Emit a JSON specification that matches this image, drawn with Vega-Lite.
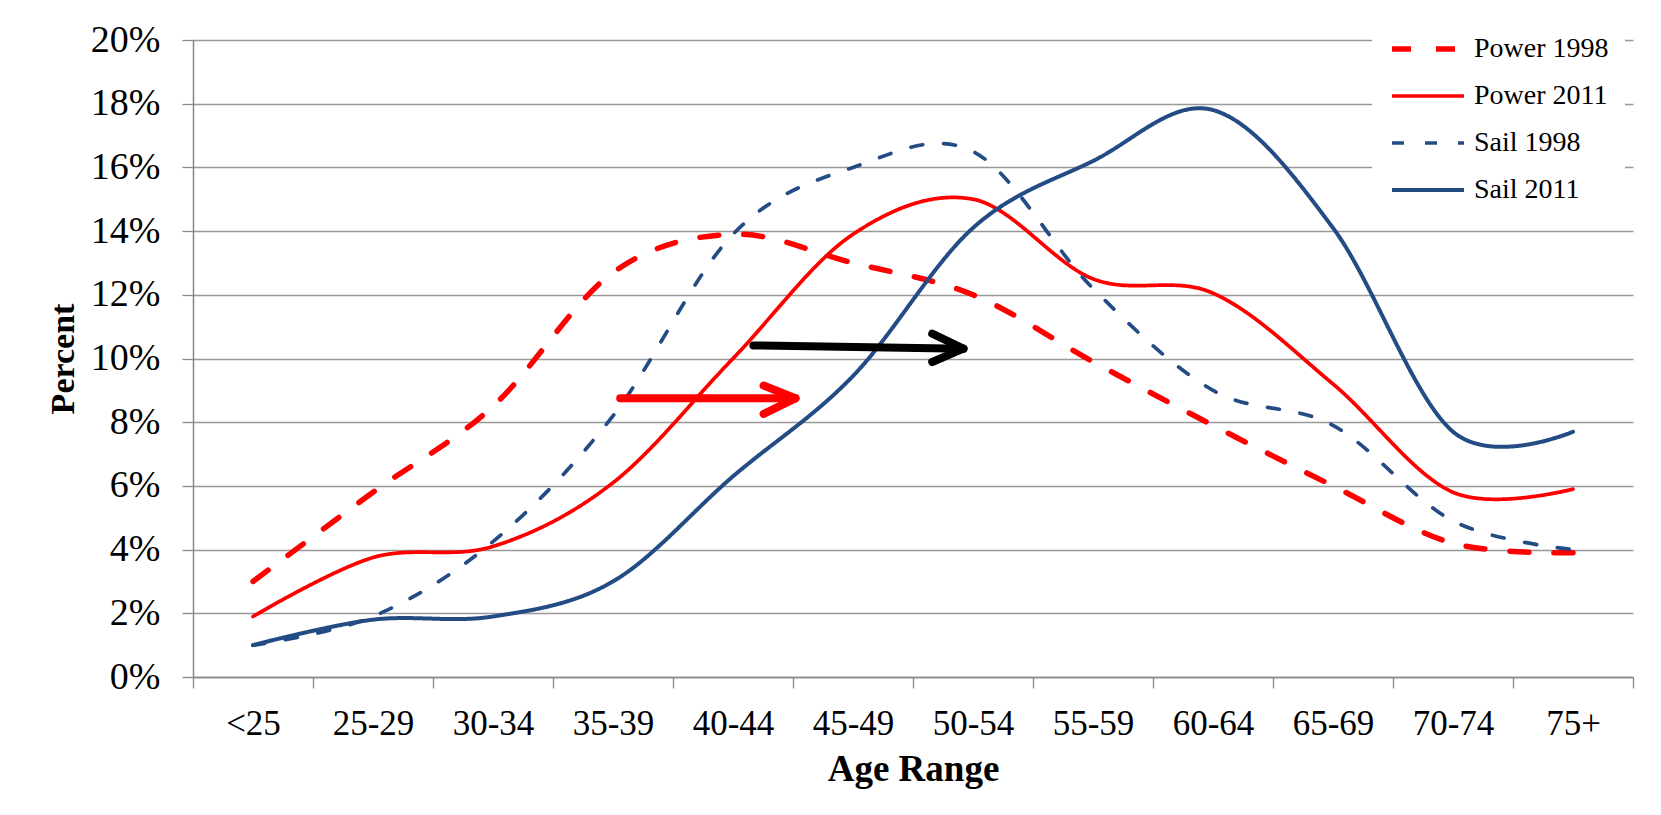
{
 "$schema": "https://vega.github.io/schema/vega-lite/v6.json",
 "autosize": {"type": "none"},
 "padding": {"left": 193, "top": 40, "right": 28, "bottom": 138},
 "width": 1440,
 "height": 637,
 "background": "white",
 "config": {"view": {"stroke": null}, "font": "Liberation Serif"},
 "datasets": {
  "series": [
   {"series": "Power 1998", "age": "<25", "idx": 0, "pct": 0.030},
   {"series": "Power 1998", "age": "25-29", "idx": 1, "pct": 0.058},
   {"series": "Power 1998", "age": "30-34", "idx": 2, "pct": 0.085},
   {"series": "Power 1998", "age": "35-39", "idx": 3, "pct": 0.127},
   {"series": "Power 1998", "age": "40-44", "idx": 4, "pct": 0.139},
   {"series": "Power 1998", "age": "45-49", "idx": 5, "pct": 0.130},
   {"series": "Power 1998", "age": "50-54", "idx": 6, "pct": 0.120},
   {"series": "Power 1998", "age": "55-59", "idx": 7, "pct": 0.099},
   {"series": "Power 1998", "age": "60-64", "idx": 8, "pct": 0.079},
   {"series": "Power 1998", "age": "65-69", "idx": 9, "pct": 0.060},
   {"series": "Power 1998", "age": "70-74", "idx": 10, "pct": 0.042},
   {"series": "Power 1998", "age": "75+", "idx": 11, "pct": 0.039},
   {"series": "Power 2011", "age": "<25", "idx": 0, "pct": 0.019},
   {"series": "Power 2011", "age": "25-29", "idx": 1, "pct": 0.0375},
   {"series": "Power 2011", "age": "30-34", "idx": 2, "pct": 0.041},
   {"series": "Power 2011", "age": "35-39", "idx": 3, "pct": 0.061},
   {"series": "Power 2011", "age": "40-44", "idx": 4, "pct": 0.100},
   {"series": "Power 2011", "age": "45-49", "idx": 5, "pct": 0.139},
   {"series": "Power 2011", "age": "50-54", "idx": 6, "pct": 0.150},
   {"series": "Power 2011", "age": "55-59", "idx": 7, "pct": 0.125},
   {"series": "Power 2011", "age": "60-64", "idx": 8, "pct": 0.1205},
   {"series": "Power 2011", "age": "65-69", "idx": 9, "pct": 0.092},
   {"series": "Power 2011", "age": "70-74", "idx": 10, "pct": 0.058},
   {"series": "Power 2011", "age": "75+", "idx": 11, "pct": 0.059},
   {"series": "Sail 1998", "age": "<25", "idx": 0, "pct": 0.010},
   {"series": "Sail 1998", "age": "25-29", "idx": 1, "pct": 0.019},
   {"series": "Sail 1998", "age": "30-34", "idx": 2, "pct": 0.0425},
   {"series": "Sail 1998", "age": "35-39", "idx": 3, "pct": 0.082},
   {"series": "Sail 1998", "age": "40-44", "idx": 4, "pct": 0.139},
   {"series": "Sail 1998", "age": "45-49", "idx": 5, "pct": 0.160},
   {"series": "Sail 1998", "age": "50-54", "idx": 6, "pct": 0.165},
   {"series": "Sail 1998", "age": "55-59", "idx": 7, "pct": 0.122},
   {"series": "Sail 1998", "age": "60-64", "idx": 8, "pct": 0.090},
   {"series": "Sail 1998", "age": "65-69", "idx": 9, "pct": 0.079},
   {"series": "Sail 1998", "age": "70-74", "idx": 10, "pct": 0.049},
   {"series": "Sail 1998", "age": "75+", "idx": 11, "pct": 0.040},
   {"series": "Sail 2011", "age": "<25", "idx": 0, "pct": 0.010},
   {"series": "Sail 2011", "age": "25-29", "idx": 1, "pct": 0.018},
   {"series": "Sail 2011", "age": "30-34", "idx": 2, "pct": 0.019},
   {"series": "Sail 2011", "age": "35-39", "idx": 3, "pct": 0.030},
   {"series": "Sail 2011", "age": "40-44", "idx": 4, "pct": 0.063},
   {"series": "Sail 2011", "age": "45-49", "idx": 5, "pct": 0.0945},
   {"series": "Sail 2011", "age": "50-54", "idx": 6, "pct": 0.141},
   {"series": "Sail 2011", "age": "55-59", "idx": 7, "pct": 0.162},
   {"series": "Sail 2011", "age": "60-64", "idx": 8, "pct": 0.178},
   {"series": "Sail 2011", "age": "65-69", "idx": 9, "pct": 0.141},
   {"series": "Sail 2011", "age": "70-74", "idx": 10, "pct": 0.077},
   {"series": "Sail 2011", "age": "75+", "idx": 11, "pct": 0.077}
  ],
  "arrows": [
   {"arrow": "power", "part": "shaft", "x": 3.06, "y": 0.0875, "x2": 4.52, "y2": 0.0875},
   {"arrow": "power", "part": "upper head", "x": 4.255, "y": 0.0915, "x2": 4.52, "y2": 0.0875},
   {"arrow": "power", "part": "lower head", "x": 4.255, "y": 0.0826, "x2": 4.52, "y2": 0.0875},
   {"arrow": "sail", "part": "shaft", "x": 4.17, "y": 0.1041, "x2": 5.92, "y2": 0.1031},
   {"arrow": "sail", "part": "upper head", "x": 5.66, "y": 0.1078, "x2": 5.92, "y2": 0.1031},
   {"arrow": "sail", "part": "lower head", "x": 5.66, "y": 0.0989, "x2": 5.92, "y2": 0.1031}
  ]
 },
 "layer": [
  {
   "data": {"name": "series"},
   "mark": {"type": "line", "interpolate": "cardinal", "strokeCap": "round", "strokeJoin": "round"},
   "encoding": {
    "x": {
     "field": "idx", "type": "quantitative",
     "scale": {"domain": [-0.5, 11.5], "nice": false, "zero": false},
     "axis": {
      "orient": "bottom",
      "values": [0, 1, 2, 3, 4, 5, 6, 7, 8, 9, 10, 11],
      "labelExpr": "['<25','25-29','30-34','35-39','40-44','45-49','50-54','55-59','60-64','65-69','70-74','75+'][datum.value]",
      "ticks": false, "grid": false, "domain": true,
      "domainColor": "#888888", "domainWidth": 1.5,
      "labelFont": "Liberation Serif", "labelFontSize": 35, "labelColor": "black", "labelPadding": 29,
      "labelOverlap": false, "labelFlush": false,
      "title": "Age Range", "titleFont": "Liberation Serif", "titleFontSize": 37, "titleFontWeight": "bold", "titleColor": "black", "titlePadding": 10
     }
    },
    "y": {
     "field": "pct", "type": "quantitative",
     "scale": {"domain": [0, 0.2], "nice": false},
     "axis": {
      "values": [0, 0.02, 0.04, 0.06, 0.08, 0.1, 0.12, 0.14, 0.16, 0.18, 0.2],
      "format": ".0%",
      "grid": true, "gridColor": "#999999", "gridWidth": 1.3,
      "tickSize": 11, "tickColor": "#888888", "tickWidth": 1.3,
      "domainColor": "#888888", "domainWidth": 1.5,
      "labelFont": "Liberation Serif", "labelFontSize": 38, "labelColor": "black", "labelPadding": 22,
      "labelOverlap": false, "labelFlush": false,
      "title": "Percent", "titleFont": "Liberation Serif", "titleFontSize": 34, "titleFontWeight": "bold", "titleColor": "black", "titlePadding": 10
     }
    },
    "color": {
     "field": "series", "type": "nominal",
     "scale": {"domain": ["Power 1998", "Power 2011", "Sail 1998", "Sail 2011"], "range": ["#FF0000", "#FF0000", "#244C84", "#244C84"]},
     "legend": {
      "title": null, "orient": "none", "legendX": 1179, "legendY": -21, "direction": "vertical",
      "fillColor": "white", "padding": 16,
      "symbolType": "M-1,0L6.2,0", "symbolSize": 400,
      "labelOffset": 58, "labelFont": "Liberation Serif", "labelFontSize": 28, "labelColor": "black",
      "rowPadding": 19
     }
    },
    "strokeDash": {
     "field": "series", "type": "nominal",
     "scale": {"domain": ["Power 1998", "Power 2011", "Sail 1998", "Sail 2011"], "range": [[19, 25], [1, 0], [12, 21], [1, 0]]}
    },
    "strokeWidth": {
     "field": "series", "type": "nominal",
     "scale": {"type": "ordinal", "domain": ["Power 1998", "Power 2011", "Sail 1998", "Sail 2011"], "range": [5.5, 3.7, 3.7, 4.0]}
    }
   }
  },
  {
   "data": {"name": "arrows"},
   "transform": [{"filter": "datum.arrow === 'power'"}],
   "mark": {"type": "rule", "color": "#FF0000", "strokeWidth": 8, "strokeCap": "round"},
   "encoding": {
    "x": {
     "field": "x", "type": "quantitative",
     "axis": {
      "orient": "bottom",
      "values": [-0.5, 0.5, 1.5, 2.5, 3.5, 4.5, 5.5, 6.5, 7.5, 8.5, 9.5, 10.5, 11.5],
      "labels": false, "ticks": true, "tickSize": 11, "tickColor": "#888888", "tickWidth": 1.3,
      "domain": false, "grid": false, "title": null
     }
    },
    "y": {"field": "y", "type": "quantitative"},
    "x2": {"field": "x2"},
    "y2": {"field": "y2"}
   }
  },
  {
   "data": {"name": "arrows"},
   "transform": [{"filter": "datum.arrow === 'sail'"}],
   "mark": {"type": "rule", "color": "black", "strokeWidth": 8, "strokeCap": "round"},
   "encoding": {
    "x": {"field": "x", "type": "quantitative", "axis": null},
    "y": {"field": "y", "type": "quantitative"},
    "x2": {"field": "x2"},
    "y2": {"field": "y2"}
   }
  }
 ],
 "resolve": {"axis": {"x": "independent"}}
}
